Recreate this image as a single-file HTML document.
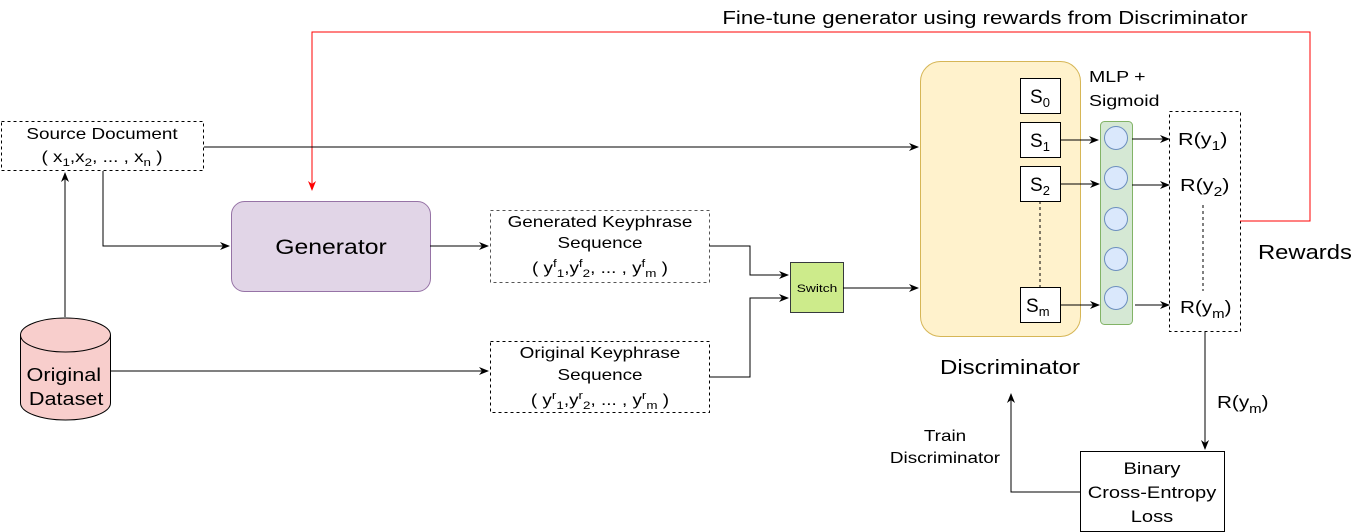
<!DOCTYPE html>
<html><head><meta charset="utf-8"><style>
html,body{margin:0;padding:0;background:#fff;}
svg{display:block;font-family:"Liberation Sans",Arial,sans-serif;}
</style></head><body>
<svg width="1361" height="532" viewBox="0 0 1361 532" xmlns="http://www.w3.org/2000/svg">
<defs>
<marker id="a" markerWidth="10" markerHeight="8" refX="9" refY="4" orient="auto" markerUnits="userSpaceOnUse"><path d="M0,0 L10,4 L0,8 L3,4 z" fill="#000"/></marker>
<marker id="r" markerWidth="10" markerHeight="8" refX="9" refY="4" orient="auto" markerUnits="userSpaceOnUse"><path d="M0,0 L10,4 L0,8 L3,4 z" fill="#f00"/></marker>
</defs>
<!-- shapes -->
<rect x="1.5" y="121.5" width="202" height="49" fill="#fff" stroke="#000" stroke-dasharray="3,3"/>
<rect x="231.5" y="201.5" width="199" height="90" rx="13" fill="#e1d5e7" stroke="#9673a6"/>
<rect x="490.5" y="210.5" width="219" height="72" fill="#fff" stroke="#555" stroke-dasharray="3,3"/>
<rect x="490.5" y="341.5" width="219" height="71" fill="#fff" stroke="#000" stroke-dasharray="3,3"/>
<path d="M20.5,335 V403 A45,17 0 0 0 110.5,403 V335" fill="#f8cecc" stroke="#000"/>
<ellipse cx="65.5" cy="335" rx="45" ry="17" fill="#f8cecc" stroke="#000"/>
<rect x="790.5" y="262.5" width="53" height="50" fill="#cdeb8b" stroke="#36393d"/>
<rect x="920.5" y="61.5" width="160" height="275" rx="20" fill="#fff2cc" stroke="#d6b656"/>
<g fill="#fff" stroke="#000">
<rect x="1020.5" y="78.5" width="40" height="35"/>
<rect x="1020.5" y="122.5" width="40" height="35"/>
<rect x="1020.5" y="166.5" width="40" height="35"/>
<rect x="1020.5" y="287.5" width="40" height="35"/>
</g>
<rect x="1100.5" y="121.5" width="32" height="203" rx="4" fill="#d5e8d4" stroke="#82b366"/>
<g fill="#dae8fc" stroke="#6c8ebf">
<circle cx="1116" cy="138" r="11.5"/>
<circle cx="1116" cy="178" r="11.5"/>
<circle cx="1116" cy="219" r="11.5"/>
<circle cx="1116" cy="259" r="11.5"/>
<circle cx="1116" cy="298" r="11.5"/>
</g>
<rect x="1169.5" y="111.5" width="71" height="220" fill="none" stroke="#000" stroke-dasharray="3,3"/>
<rect x="1080.5" y="451.5" width="144" height="80" fill="#fff" stroke="#000"/>
<!-- connectors -->
<g fill="none" stroke="#000" stroke-width="1">
<path d="M1240,221 H1310 V32 H312 V190" stroke="#f00" marker-end="url(#r)"/>
<path d="M204,147 H918" marker-end="url(#a)"/>
<path d="M103,171 V246 H229" marker-end="url(#a)"/>
<path d="M65,317 V173" marker-end="url(#a)"/>
<path d="M110,371 H488" marker-end="url(#a)"/>
<path d="M430,246 H488" marker-end="url(#a)"/>
<path d="M709,246 H750 V275 H788" marker-end="url(#a)"/>
<path d="M709,377 H750 V298 H788" marker-end="url(#a)"/>
<path d="M843,288 H918" marker-end="url(#a)"/>
<path d="M1060,140 H1098" marker-end="url(#a)"/>
<path d="M1060,184 H1099" marker-end="url(#a)"/>
<path d="M1060,305 H1099" marker-end="url(#a)"/>
<path d="M1132,139 H1169" marker-end="url(#a)"/>
<path d="M1132,185 H1169" marker-end="url(#a)"/>
<path d="M1135,305 H1169" marker-end="url(#a)"/>
<path d="M1040,201 V287" stroke-dasharray="3,3"/>
<path d="M1203,205 V291" stroke-dasharray="3,3"/>
<path d="M1205,331 V449" marker-end="url(#a)"/>
<path d="M1080,492 H1011 V394" marker-end="url(#a)"/>
</g>
<!-- texts (horizontally stretched) -->
<g transform="translate(102,0) scale(1.22,1) translate(-102,0)">
<text x="102" y="139" font-size="15.5" text-anchor="middle">Source Document</text>
<text x="102" y="162" font-size="15.5" text-anchor="middle">( x<tspan font-size="11" dy="4">1</tspan><tspan dy="-4">,x</tspan><tspan font-size="11" dy="4">2</tspan><tspan dy="-4">, ... , x</tspan><tspan font-size="11" dy="4">n</tspan><tspan dy="-4"> )</tspan></text>
</g>
<g transform="translate(331,0) scale(1.18,1) translate(-331,0)">
<text x="331" y="254" font-size="21" text-anchor="middle">Generator</text>
</g>
<g transform="translate(600,0) scale(1.22,1) translate(-600,0)">
<text x="600" y="227" font-size="15.5" text-anchor="middle">Generated Keyphrase</text>
<text x="600" y="248" font-size="15.5" text-anchor="middle">Sequence</text>
<text x="600" y="273" font-size="15.5" text-anchor="middle">( y<tspan font-size="11" dy="-6">f</tspan><tspan font-size="11" dy="10">1</tspan><tspan dy="-4">,y</tspan><tspan font-size="11" dy="-6">f</tspan><tspan font-size="11" dy="10">2</tspan><tspan dy="-4">, ... , y</tspan><tspan font-size="11" dy="-6">f</tspan><tspan font-size="11" dy="10">m</tspan><tspan dy="-4"> )</tspan></text>
<text x="600" y="358" font-size="15.5" text-anchor="middle">Original Keyphrase</text>
<text x="600" y="380" font-size="15.5" text-anchor="middle">Sequence</text>
<text x="600" y="405" font-size="15.5" text-anchor="middle">( y<tspan font-size="11" dy="-6">r</tspan><tspan font-size="11" dy="10">1</tspan><tspan dy="-4">,y</tspan><tspan font-size="11" dy="-6">r</tspan><tspan font-size="11" dy="10">2</tspan><tspan dy="-4">, ... , y</tspan><tspan font-size="11" dy="-6">r</tspan><tspan font-size="11" dy="10">m</tspan><tspan dy="-4"> )</tspan></text>
</g>
<g transform="translate(65,0) scale(1.17,1) translate(-65,0)">
<text x="64" y="381" font-size="18.5" text-anchor="middle">Original</text>
<text x="66" y="405" font-size="18.5" text-anchor="middle">Dataset</text>
</g>
<g transform="translate(817,0) scale(1.25,1) translate(-817,0)">
<text x="817" y="292" font-size="11" text-anchor="middle">Switch</text>
</g>
<g font-size="19">
<text x="1030" y="103">S<tspan font-size="13" dy="4">0</tspan></text>
<text x="1030" y="147">S<tspan font-size="13" dy="4">1</tspan></text>
<text x="1030" y="191">S<tspan font-size="13" dy="4">2</tspan></text>
<text x="1026" y="312">S<tspan font-size="13" dy="4">m</tspan></text>
</g>
<g transform="translate(1010,0) scale(1.2,1) translate(-1010,0)">
<text x="1010" y="374" font-size="20" text-anchor="middle">Discriminator</text>
</g>
<g transform="translate(1089,0) scale(1.22,1) translate(-1089,0)">
<text x="1089" y="82" font-size="16">MLP +</text>
<text x="1089" y="106" font-size="16">Sigmoid</text>
</g>
<g font-size="18">
<g transform="translate(1178,0) scale(1.2,1) translate(-1178,0)"><text x="1178" y="145">R(y<tspan font-size="13" dy="5">1</tspan><tspan dy="-5">)</tspan></text></g>
<g transform="translate(1180,0) scale(1.2,1) translate(-1180,0)"><text x="1180" y="191">R(y<tspan font-size="13" dy="5">2</tspan><tspan dy="-5">)</tspan></text></g>
<g transform="translate(1180,0) scale(1.15,1) translate(-1180,0)"><text x="1180" y="313">R(y<tspan font-size="13" dy="5">m</tspan><tspan dy="-5">)</tspan></text></g>
<g transform="translate(1217,0) scale(1.15,1) translate(-1217,0)"><text x="1217" y="408">R(y<tspan font-size="13" dy="5">m</tspan><tspan dy="-5">)</tspan></text></g>
</g>
<g transform="translate(1258,0) scale(1.19,1) translate(-1258,0)">
<text x="1258" y="259" font-size="20">Rewards</text>
</g>
<g transform="translate(985,0) scale(1.2,1) translate(-985,0)">
<text x="985" y="24" font-size="18.5" text-anchor="middle">Fine-tune generator using rewards from Discriminator</text>
</g>
<g transform="translate(1152,0) scale(1.22,1) translate(-1152,0)">
<text x="1152" y="474" font-size="16.5" text-anchor="middle">Binary</text>
<text x="1152" y="498" font-size="16.5" text-anchor="middle">Cross-Entropy</text>
<text x="1152" y="522" font-size="16.5" text-anchor="middle">Loss</text>
</g>
<g transform="translate(945,0) scale(1.22,1) translate(-945,0)">
<text x="945" y="441" font-size="15.5" text-anchor="middle">Train</text>
<text x="945" y="463" font-size="15.5" text-anchor="middle">Discriminator</text>
</g>
</svg>
</body></html>
